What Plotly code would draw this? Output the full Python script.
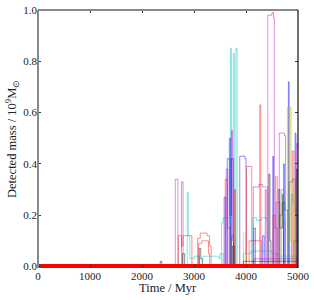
import plotly.graph_objects as go

# Each track: colour key, step times (Myr), detected mass (1e9 Msun)
tracks = [
    ("k", [2320, 2350, 2380], [0, 0.02, 0]),
    ("m", [2600, 2640, 2690], [0, 0.34, 0]),
    ("m", [2740, 2760, 2790], [0, 0.33, 0]),
    ("r", [2680, 2700, 2760, 2790, 2900, 2960], [0, 0.12, 0.08, 0.12, 0.12, 0]),
    ("c", [2850, 2870, 2890, 2920, 3000, 3100], [0, 0.29, 0.12, 0.03, 0.04, 0]),
    ("r", [3040, 3070, 3120, 3250, 3300, 3330], [0, 0.11, 0.13, 0.12, 0.08, 0]),
    ("r", [3050, 3090, 3150, 3250, 3280, 3300], [0, 0.09, 0.10, 0.10, 0.05, 0]),
    ("k", [2760, 2780, 2820, 3080, 3100, 3130, 3160], [0, 0.05, 0, 0, 0.07, 0.03, 0]),
    ("c", [3150, 3170, 3450, 3480, 3500, 3560], [0, 0.04, 0.04, 0.03, 0.05, 0]),
    ("c", [3650, 3700, 3720], [0, 0.85, 0]),
    ("c", [3740, 3755, 3775], [0, 0.83, 0]),
    ("c", [3790, 3805, 3830], [0, 0.85, 0]),
    ("m", [3700, 3720, 3740, 3760], [0, 0.53, 0.10, 0]),
    ("b", [3620, 3640, 3690, 3720, 3760], [0, 0.42, 0.20, 0.42, 0]),
    ("b", [3860, 3880, 3980, 4000], [0, 0.43, 0.42, 0]),
    ("r", [3990, 4010, 4090, 4110], [0, 0.39, 0.39, 0]),
    ("r", [3580, 3600, 3640, 3700], [0, 0.34, 0.15, 0]),
    ("c", [3500, 3530, 3560, 3680, 3700, 3720], [0, 0.17, 0.19, 0.19, 0.10, 0]),
    ("r", [4250, 4265, 4285], [0, 0.63, 0]),
    ("m", [4400, 4420, 4480, 4500, 4530, 4545], [0, 0.98, 0.98, 0.99, 0.97, 0]),
    ("m", [4120, 4140, 4250, 4320, 4420], [0, 0.31, 0.32, 0.31, 0]),
    ("b", [4500, 4515, 4530], [0, 0.43, 0]),
    ("m", [4620, 4640, 4700, 4740, 4760], [0, 0.52, 0.52, 0.51, 0]),
    ("b", [4800, 4815, 4830], [0, 0.72, 0]),
    ("y", [4780, 4795, 4810, 4850, 4870], [0, 0.62, 0.10, 0.62, 0]),
    ("b", [4930, 4945, 4960], [0, 0.52, 0]),
    ("m", [4960, 4975, 4990, 5000], [0, 0.48, 0.46, 0]),
    ("g", [4800, 4830, 4900, 4950, 5000], [0, 0.33, 0.34, 0.20, 0.15]),
    ("k", [4420, 4440, 4460, 4480], [0, 0.36, 0.10, 0]),
    ("c", [4100, 4130, 4200, 4300, 4400, 4420], [0, 0.19, 0.18, 0.19, 0.18, 0]),
    ("r", [4040, 4060, 4280, 4300], [0, 0.10, 0.10, 0]),
    ("g", [4600, 4650, 4700, 4750, 4800], [0, 0.20, 0.25, 0.22, 0]),
    ("k", [4600, 4620, 4650, 4700, 4720], [0, 0.30, 0.15, 0.28, 0]),
    ("r", [4550, 4570, 4600, 4650], [0, 0.35, 0.25, 0]),
    ("m", [4350, 4370, 4390], [0, 0.30, 0]),
    ("y", [3930, 3950, 3990, 4010], [0, 0.13, 0.05, 0]),
    ("b", [4700, 4720, 4740], [0, 0.40, 0]),
    ("c", [3900, 3950, 4100, 4500, 4600, 5000], [0, 0.05, 0.06, 0.05, 0.04, 0.05]),
    ("m", [4100, 4150, 4600, 5000], [0, 0.03, 0.03, 0.04]),
    ("k", [3900, 3950, 5000], [0, 0.02, 0.02]),
    ("r", [4500, 4520, 4560, 4600], [0, 0.20, 0.15, 0]),
    ("g", [4900, 4920, 5000], [0, 0.10, 0.12]),
    ("b", [4130, 4150, 4180], [0, 0.15, 0]),
    ("c", [4850, 4870, 4900, 4960, 5000], [0, 0.28, 0.25, 0.22, 0]),
    ("r", [4870, 4890, 4920], [0, 0.45, 0]),
    ("b", [3560, 3580, 3610], [0, 0.27, 0]),
    ("m", [3600, 3620, 3650], [0, 0.38, 0]),
    ("k", [3720, 3740, 3780], [0, 0.08, 0]),
    ("c", [4650, 4680, 4720, 4760], [0, 0.30, 0.18, 0]),
    ("b", [4300, 4320, 4350], [0, 0.12, 0]),
    ("b", [3660, 3680, 3700], [0, 0.50, 0]),
    ("g", [3700, 3720, 3760], [0, 0.12, 0]),
    ("r", [3760, 3780, 3800], [0, 0.30, 0]),
    ("m", [4560, 4580, 4600], [0, 0.25, 0]),
    ("k", [4950, 4970, 4990], [0, 0.38, 0]),
    ("y", [4900, 4920, 4940], [0, 0.30, 0]),
]

baseline_t = [0, 5000]
baseline_v = [0, 0]

x_ticks = [0, 1000, 2000, 3000, 4000, 5000]
y_ticks = [0.0, 0.2, 0.4, 0.6, 0.8, 1.0]
y_labels = ["0.0", "0.2", "0.4", "0.6", "0.8", "1.0"]

colors = {
    "b": "rgba(0,0,255,0.5)",
    "g": "rgba(0,128,0,0.5)",
    "r": "rgba(255,0,0,0.5)",
    "c": "rgba(0,191,191,0.5)",
    "m": "rgba(191,0,191,0.5)",
    "y": "rgba(191,191,0,0.5)",
    "k": "rgba(0,0,0,0.5)",
}

fig = go.Figure()
for key, t, v in tracks:
    fig.add_trace(go.Scatter(x=t, y=v, mode="lines", line_shape="hv",
                             line=dict(color=colors[key], width=0.9),
                             hoverinfo="skip", showlegend=False))
fig.add_trace(go.Scatter(x=baseline_t, y=baseline_v, mode="lines",
                         line=dict(color="#ff0000", width=5),
                         hoverinfo="skip", showlegend=False))

font = "Liberation Serif, Times New Roman, serif"
fig.update_layout(
    width=314, height=300,
    margin=dict(l=38, r=16, t=10, b=32, autoexpand=False),
    paper_bgcolor="white", plot_bgcolor="white",
    font=dict(family=font, size=11, color="#222"),
    showlegend=False,
    xaxis=dict(range=[0, 5000], tickvals=x_ticks, ticktext=[str(t) for t in x_ticks],
               ticks="inside", ticklen=3, tickcolor="#333", mirror="ticks",
               showline=False, showgrid=False, zeroline=False, automargin=False,
               tickfont=dict(size=11)),
    yaxis=dict(range=[-0.006, 1.0], tickvals=y_ticks, ticktext=y_labels,
               ticks="inside", ticklen=3, tickcolor="#333", mirror="ticks",
               showline=False, showgrid=False, zeroline=False, automargin=False,
               tickfont=dict(size=11)),
    annotations=[
        dict(text="Time / Myr", xref="paper", yref="paper", x=0.5, y=-0.078,
             xanchor="center", yanchor="middle", showarrow=False,
             font=dict(size=12.5)),
        dict(text="Detected mass / 10<sup>9</sup>M<sub>⊙</sub>", xref="paper", yref="paper",
             x=-0.1, y=0.5, xanchor="center", yanchor="middle", textangle=-90,
             showarrow=False, font=dict(size=12.5)),
    ],
    shapes=[
        dict(type="line", xref="paper", yref="paper", x0=0, x1=0, y0=0, y1=1,
             line=dict(color="#888", width=2), layer="above"),
        dict(type="line", xref="paper", yref="paper", x0=0, x1=1, y0=1, y1=1,
             line=dict(color="#888", width=2), layer="above"),
        dict(type="line", xref="paper", yref="paper", x0=1, x1=1, y0=0, y1=1,
             line=dict(color="#111", width=1.2), layer="above"),
    ],
)

fig.write_html("out.html", config={"displayModeBar": False},
               post_script="document.body.style.margin='0';")
